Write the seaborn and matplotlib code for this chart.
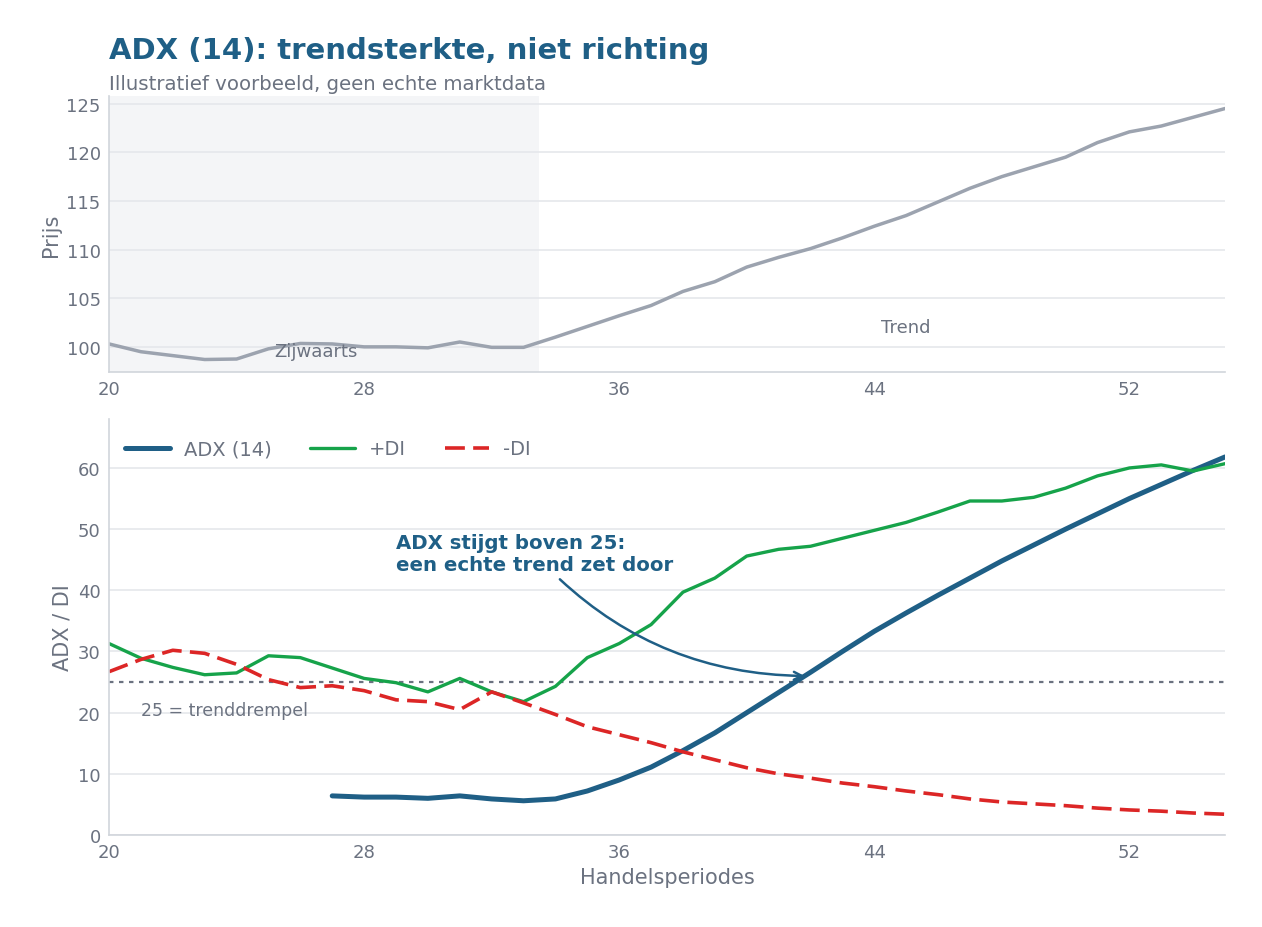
import numpy as np
import pandas as pd
import seaborn as sns
import matplotlib.pyplot as plt

periods = list(range(20, 56))
price = [100.3, 99.5, 99.1, 98.7, 98.75, 99.8, 100.35, 100.3, 100.0, 100.0,
         99.9, 100.5, 99.95, 99.95, 101.0, 102.1, 103.2, 104.25, 105.7, 106.7,
         108.2, 109.2, 110.1, 111.2, 112.4, 113.5, 114.9, 116.3, 117.5, 118.5,
         119.5, 121.0, 122.1, 122.7, 123.6, 124.5]

adx_periods = list(range(27, 56))
adx = [6.4, 6.2, 6.2, 6.0, 6.4, 5.9, 5.6, 5.9, 7.2, 9.0,
       11.1, 13.8, 16.7, 20.0, 23.3, 26.6, 30.0, 33.3, 36.3, 39.2,
       42.0, 44.8, 47.4, 50.0, 52.5, 55.0, 57.3, 59.6, 61.8]

plus_di = [31.3, 28.9, 27.4, 26.2, 26.5, 29.3, 29.0, 27.3, 25.6, 24.9,
           23.4, 25.6, 23.4, 21.8, 24.3, 29.0, 31.3, 34.4, 39.7, 42.0,
           45.6, 46.7, 47.2, 48.5, 49.8, 51.1, 52.8, 54.6, 54.6, 55.2,
           56.7, 58.7, 60.0, 60.5, 59.5, 60.7]
minus_di = [26.7, 28.7, 30.2, 29.7, 27.9, 25.4, 24.1, 24.4, 23.6, 22.1,
            21.8, 20.5, 23.4, 21.6, 19.7, 17.7, 16.4, 15.1, 13.6, 12.3,
            11.0, 10.0, 9.3, 8.5, 7.9, 7.2, 6.6, 5.9, 5.4, 5.1,
            4.8, 4.4, 4.1, 3.9, 3.6, 3.4]

xticks = [20, 28, 36, 44, 52]
threshold = 25
sideways_end = 33.5

BLUE = "#1f5f86"
GREEN = "#16a34a"
RED = "#dc2626"
GRAY = "#9ca3af"
TEXT = "#6b7280"
GRID = "#e5e7eb"
SPINE = "#d1d5db"

sns.set_style("white")
plt.rcParams['font.family'] = ['DejaVu Sans']

df = pd.DataFrame({"periode": periods, "prijs": price, "plus": plus_di, "min": minus_di})
df_adx = pd.DataFrame({"periode": adx_periods, "adx": adx})

fig = plt.figure(figsize=(12.62, 9.28), dpi=100)
ax1 = fig.add_axes([0.0864, 0.598, 0.8843, 0.2975])
ax2 = fig.add_axes([0.0864, 0.0991, 0.8843, 0.4483])

# top: price
ax1.axvspan(20, sideways_end, color="#f4f5f7", zorder=0, lw=0)
sns.lineplot(data=df, x="periode", y="prijs", ax=ax1, color=GRAY, lw=2.5)
ax1.text(26.5, 99.6, "Zijwaarts", color=TEXT, fontsize=13, ha="center", va="center")
ax1.text(45.0, 102.0, "Trend", color=TEXT, fontsize=13, ha="center", va="center")
ax1.set_ylabel("Prijs", color=TEXT, fontsize=15)
ax1.set_xlabel("")

# bottom: ADX / DI
sns.lineplot(data=df_adx, x="periode", y="adx", ax=ax2, color=BLUE, lw=3.6, label="ADX (14)")
sns.lineplot(data=df, x="periode", y="plus", ax=ax2, color=GREEN, lw=2.4, label="+DI")
sns.lineplot(data=df, x="periode", y="min", ax=ax2, color=RED, lw=2.6,
             linestyle=(0, (5.5, 2.3)), label="-DI")
ax2.axhline(threshold, color=TEXT, lw=1.6, linestyle=(0, (2, 2.5)), zorder=1)
ax2.text(21.0, 20.5, "25 = trenddrempel", color=TEXT, fontsize=12.5, ha="left", va="center")
ax2.annotate("ADX stijgt boven 25:\neen echte trend zet door",
             xy=(41.9, 26.0), xytext=(29.0, 46.0),
             ha="left", va="center", fontsize=14.2, fontweight="bold", color=BLUE,
             arrowprops=dict(arrowstyle="->", color=BLUE, lw=1.8,
                             connectionstyle="arc3,rad=0.22"))
ax2.set_ylim(0, 68)
ax2.set_ylabel("ADX / DI", color=TEXT, fontsize=15)
ax2.set_xlabel("Handelsperiodes", color=TEXT, fontsize=15)
leg = ax2.legend(loc="upper left", ncol=3, frameon=False, fontsize=14,
                 handlelength=2.3, handletextpad=0.7, columnspacing=2.0,
                 borderaxespad=0.65, bbox_to_anchor=(-0.0036, 1.0))
for t in leg.get_texts():
    t.set_color(TEXT)

for ax in (ax1, ax2):
    ax.set_xlim(20, 55)
    ax.set_xticks(xticks)
    ax.grid(axis="y", color=GRID, lw=1.2)
    ax.grid(axis="x", visible=False)
    ax.set_axisbelow(True)
    for side in ("top", "right"):
        ax.spines[side].set_visible(False)
    for side in ("left", "bottom"):
        ax.spines[side].set_color(SPINE)
        ax.spines[side].set_linewidth(1.2)
    ax.tick_params(length=0, labelsize=13, labelcolor=TEXT, pad=6)

fig.text(0.0864, 1 - 51 / 928, "ADX (14): trendsterkte, niet richting",
         fontsize=21, fontweight="bold", color=BLUE, ha="left", va="center")
fig.text(0.0864, 1 - 85 / 928, "Illustratief voorbeeld, geen echte marktdata",
         fontsize=14.2, color=TEXT, ha="left", va="center")

fig.savefig("out.png", dpi=100)
